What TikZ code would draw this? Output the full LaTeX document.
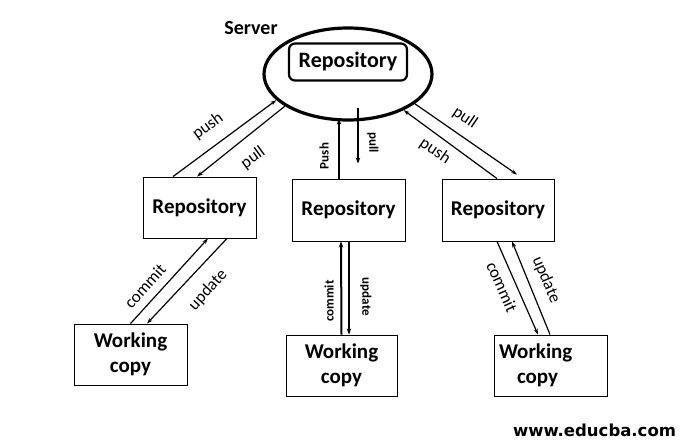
\documentclass[tikz,border=0pt]{standalone}
\usepackage{fontspec}
\setmainfont{Carlito}
\newfontfamily\urlfont{DejaVu Sans}
\usetikzlibrary{arrows.meta,shapes.geometric}

\tikzset{
  box/.style={draw, line width=0.9pt, minimum width=113pt, minimum height=61pt, inner sep=0pt,
    font=\fontsize{21}{25}\selectfont\bfseries, align=center},
  arr/.style={line width=1.2pt, -{Stealth[length=6pt,width=4pt]}},
  marr/.style={line width=2pt, -{Stealth[length=6pt,width=4.5pt]}},
  lbl/.style={font=\fontsize{17}{17}\selectfont, inner sep=0pt},
  mlbl/.style={font=\fontsize{13}{13}\selectfont\bfseries, inner sep=0pt},
}

\begin{document}
\begin{tikzpicture}[x=1pt,y=-1pt]
			%%%%% START %%%%%
			\useasboundingbox (0,0) rectangle (688,446);
			
			\node[draw, ellipse, line width=3.2pt, minimum width=168pt, minimum height=92pt, inner sep=0pt] (srv) at (348,74) {};
			\node[draw, rounded corners=6pt, line width=2.2pt, minimum width=118pt, minimum height=37pt, inner sep=0pt,
				font=\fontsize{22}{22}\selectfont\bfseries] (srvrepo) at (348,62) {Repository};
			\node[font=\fontsize{20}{20}\selectfont\bfseries] (srvlbl) at (251,28) {Server};
			
			\node[box] (lrepo) at (199.5,207.5) {Repository};
			\node[box, minimum height=62pt] (mrepo) at (348.5,210) {Repository};
			\node[box, minimum width=112pt, minimum height=62pt] (rrepo) at (498,210) {Repository};
			
			\node[box] (lwc) at (130.5,354.5) {Working\\copy};
			\node[box, minimum width=111pt] (mwc) at (341.5,365.5) {Working\\copy};
			\node[box, text width=103pt, align=left, inner xsep=5pt] (rwc) at (550.5,365.5) {Working\\\hspace*{18pt}copy};
			
			\draw[arr] ([xshift=-26.5pt]lrepo.north) -- (srv.200);
			\draw[arr] (srv.207) -- ([xshift=-2.5pt]lrepo.north);
			\draw[marr] ([xshift=-9.5pt]mrepo.north) -- ([xshift=-9pt,yshift=3pt]srv.south);
			\draw[marr] ([xshift=10pt,yshift=14pt]srv.south) -- ([xshift=9.5pt,yshift=15pt]mrepo.north);
			\draw[arr] (srv.336) -- ([xshift=19pt,yshift=4pt]rrepo.north);
			\draw[arr] ([xshift=-1pt]rrepo.north) -- (srv.327);
			
			\draw[arr] (lwc.north) -- ([xshift=8.5pt]lrepo.south);
			\draw[arr] ([xshift=27.5pt]lrepo.south) -- ([xshift=16.5pt]lwc.north);
			\draw[marr] (mwc.north) -- ([xshift=-7.5pt]mrepo.south);
			\draw[marr] ([xshift=0.5pt]mrepo.south) -- ([xshift=7.5pt]mwc.north);
			\draw[arr] ([xshift=-1pt]rrepo.south) -- ([xshift=-12.5pt]rwc.north);
			\draw[arr] ([xshift=-0.5pt]rwc.north) -- ([xshift=14pt]rrepo.south);
			
			\node[lbl, rotate=36] (pushl) at (208,126) {push};
			\node[lbl, rotate=36] (pulll) at (253,158) {pull};
			\node[mlbl, rotate=90] (pushm) at (324,156) {Push};
			\node[mlbl, rotate=-90] (pullm) at (373,143) {pull};
			\node[lbl, rotate=-34] (pullr) at (465,118) {pull};
			\node[lbl, rotate=-34] (pushr) at (435,151) {push};
			
			\node[lbl, rotate=48] (comml) at (145,286) {commit};
			\node[lbl, rotate=48] (updl) at (208,290) {update};
			\node[mlbl, rotate=90] (commm) at (329,301) {commit};
			\node[mlbl, rotate=-90] (updm) at (366,297) {update};
			\node[lbl, rotate=-66] (commr) at (502,287) {commit};
			\node[lbl, rotate=-67] (updr) at (546,280) {update};
			
			\node[font=\urlfont\bfseries\fontsize{16.5}{16.5}\selectfont, anchor=base] (www) at (594.5,436) {www.educba.com};
			
			%%%%% END %%%%%
\end{tikzpicture}
\end{document}
